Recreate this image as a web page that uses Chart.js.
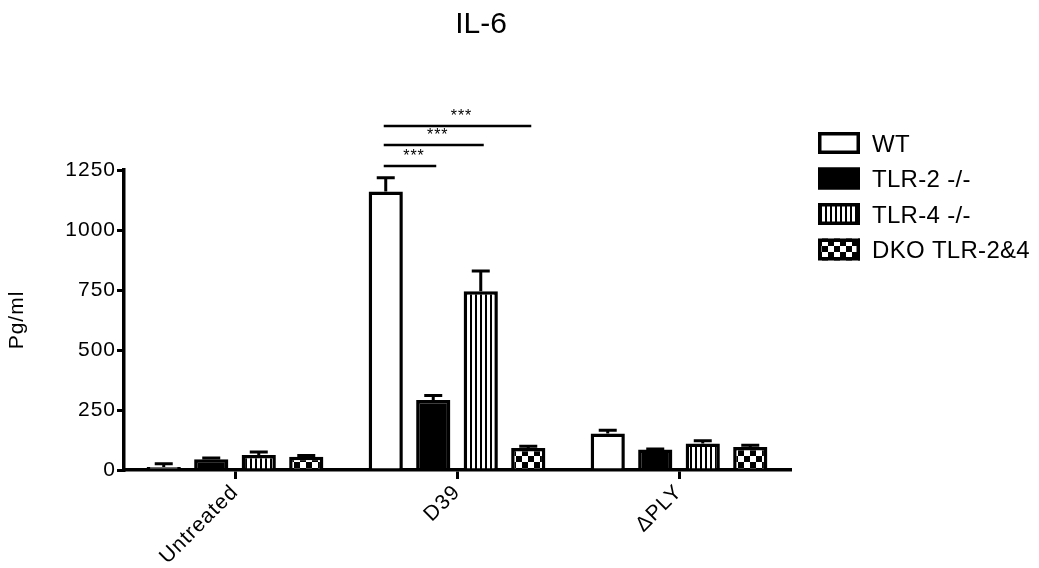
<!DOCTYPE html>
<html>
<head>
<meta charset="utf-8">
<script src="https://cdn.jsdelivr.net/npm/chart.js@4.4.1/dist/chart.umd.min.js"></script>
<style>
  html, body { margin: 0; padding: 0; background: #fff; }
  canvas { display: block; }
</style>
</head>
<body>
<canvas id="c" width="1039" height="568"></canvas>
<script>
// IL-6 concentration (pg/ml) per stimulus and genotype
const categories = ['Untreated', 'D39', '\u0394PLY'];
const seriesNames = ['WT', 'TLR-2 -/-', 'TLR-4 -/-', 'DKO TLR-2&4'];

const wtValues   = [12, 1160, 152];
const wtErrors   = [14, 58, 14];
const tlr2Values = [45, 292, 85];
const tlr2Errors = [5, 18, 3];
const tlr4Values = [63, 745, 110];
const tlr4Errors = [12, 84, 12];
const dkoValues  = [55, 92, 96];
const dkoErrors  = [5, 7, 7];

const yTicks = [0, 250, 500, 750, 1000, 1250];

// significance brackets within the D39 group (series index pairs)
const sigCategory = 1;
const sigPairs   = [[0, 1], [0, 2], [0, 3]];
const sigLevels  = [1267, 1354, 1433];
const sigLabels  = ['***', '***', '***'];

const FONT = '"Liberation Sans", Arial, Helvetica, sans-serif';
const canvas = document.getElementById('c');
const mainCtx = canvas.getContext('2d');

function makeStripes() {
  const c = document.createElement('canvas');
  c.width = 5; c.height = 5;
  const g = c.getContext('2d');
  g.fillStyle = '#fff'; g.fillRect(0, 0, 5, 5);
  g.fillStyle = '#000'; g.fillRect(0, 0, 2, 5);
  return mainCtx.createPattern(c, 'repeat');
}
function makeChecker() {
  const c = document.createElement('canvas');
  c.width = 12; c.height = 12;
  const g = c.getContext('2d');
  g.fillStyle = '#fff'; g.fillRect(0, 0, 12, 12);
  g.fillStyle = '#000'; g.fillRect(0, 0, 6, 6); g.fillRect(6, 6, 6, 6);
  return mainCtx.createPattern(c, 'repeat');
}

const fills = ['#ffffff', '#000000', makeStripes(), makeChecker()];
const valueSets = [wtValues, tlr2Values, tlr4Values, dkoValues];
const errorSets = [wtErrors, tlr2Errors, tlr4Errors, dkoErrors];

const datasets = seriesNames.map((name, i) => ({
  label: name,
  data: valueSets[i],
  errors: errorSets[i],
  backgroundColor: fills[i],
  borderColor: '#000',
  borderWidth: 3.5,
  borderSkipped: 'start',
  categoryPercentage: 0.856,
  barPercentage: 0.72
}));

const TEXT_SPACING = '1px';
const spacingPlugin = {
  id: 'spacing',
  afterInit(chart) { chart.ctx.letterSpacing = TEXT_SPACING; },
  beforeUpdate(chart) { chart.ctx.letterSpacing = TEXT_SPACING; },
  beforeDraw(chart) { chart.ctx.letterSpacing = TEXT_SPACING; }
};

const errorBarPlugin = {
  id: 'errorBars',
  afterDatasetsDraw(chart) {
    const ctx = chart.ctx, y = chart.scales.y;
    ctx.save();
    ctx.strokeStyle = '#000';
    ctx.lineWidth = 3;
    chart.data.datasets.forEach((ds, i) => {
      chart.getDatasetMeta(i).data.forEach((bar, j) => {
        const v = ds.data[j], e = ds.errors[j];
        const yTop = y.getPixelForValue(v), yErr = y.getPixelForValue(v + e);
        ctx.beginPath();
        ctx.moveTo(bar.x, yTop); ctx.lineTo(bar.x, yErr);
        ctx.moveTo(bar.x - 9, yErr); ctx.lineTo(bar.x + 9, yErr);
        ctx.stroke();
      });
    });
    ctx.restore();
  }
};

const significancePlugin = {
  id: 'significance',
  afterDraw(chart) {
    const ctx = chart.ctx, y = chart.scales.y;
    ctx.save();
    ctx.strokeStyle = '#000';
    ctx.fillStyle = '#000';
    ctx.lineWidth = 2.5;
    ctx.font = '16px ' + FONT;
    ctx.letterSpacing = '1px';
    ctx.textAlign = 'center';
    ctx.textBaseline = 'alphabetic';
    sigPairs.forEach((pair, k) => {
      const a = chart.getDatasetMeta(pair[0]).data[sigCategory];
      const b = chart.getDatasetMeta(pair[1]).data[sigCategory];
      const yy = y.getPixelForValue(sigLevels[k]);
      const x1 = a.x - 2, x2 = b.x + 3;
      ctx.beginPath(); ctx.moveTo(x1, yy); ctx.lineTo(x2, yy); ctx.stroke();
      ctx.fillText(sigLabels[k], (x1 + x2) / 2 + 4, yy - 5);
    });
    ctx.restore();
  }
};

const titlePlugin = {
  id: 'plotTitle',
  afterDraw(chart) {
    const ctx = chart.ctx;
    ctx.save();
    ctx.fillStyle = '#000';
    ctx.font = '30px ' + FONT;
    ctx.letterSpacing = '0px';
    ctx.textAlign = 'center';
    ctx.textBaseline = 'alphabetic';
    ctx.fillText('IL-6', 481, 33);
    ctx.restore();
  }
};

const legendPlugin = {
  id: 'sideLegend',
  afterDraw(chart) {
    const ctx = chart.ctx;
    const left = 818, boxW = 42, boxH = 22, top0 = 143, step = 35.5;
    ctx.save();
    ctx.font = '24px ' + FONT;
    ctx.letterSpacing = '0.3px';
    ctx.textAlign = 'left';
    ctx.textBaseline = 'alphabetic';
    chart.data.datasets.forEach((ds, i) => {
      const cy = top0 + i * step;
      ctx.fillStyle = ds.backgroundColor;
      ctx.fillRect(left, cy - boxH / 2, boxW, boxH);
      ctx.strokeStyle = '#000';
      ctx.lineWidth = 3.5;
      ctx.strokeRect(left + 1.75, cy - boxH / 2 + 1.75, boxW - 3.5, boxH - 3.5);
      ctx.fillStyle = '#000';
      ctx.fillText(ds.label, 872, cy + 8.5);
    });
    ctx.restore();
  }
};

new Chart(canvas, {
  type: 'bar',
  data: { labels: categories, datasets },
  plugins: [spacingPlugin, errorBarPlugin, significancePlugin, titlePlugin, legendPlugin],
  options: {
    responsive: false,
    animation: false,
    devicePixelRatio: 1,
    layout: { padding: { top: 170, right: 249, left: 0, bottom: 0 } },
    plugins: {
      legend: { display: false },
      title: { display: false },
      tooltip: { enabled: false }
    },
    scales: {
      x: {
        type: 'category',
        offset: true,
        grid: {
          offset: false,
          drawOnChartArea: false,
          drawTicks: true,
          tickLength: 9,
          lineWidth: 3,
          color: '#000'
        },
        border: { display: true, color: '#000', width: 3.5 },
        ticks: {
          color: '#000',
          font: { family: FONT, size: 21 },
          minRotation: 45,
          maxRotation: 45,
          autoSkip: false,
          padding: 1
        },
        afterFit(scale) { scale.height = 98; }
      },
      y: {
        min: 0,
        max: 1250,
        afterBuildTicks(scale) { scale.ticks = yTicks.map(v => ({ value: v })); },
        grid: {
          drawOnChartArea: false,
          drawTicks: true,
          tickLength: 7,
          lineWidth: 3,
          color: '#000'
        },
        border: { display: true, color: '#000', width: 3.5 },
        ticks: {
          color: '#000',
          font: { family: FONT, size: 21 },
          padding: 1,
          callback: (v) => String(v)
        },
        title: {
          display: true,
          text: 'Pg/ml',
          color: '#000',
          font: { family: FONT, size: 21 },
          padding: { top: 5, bottom: 0 }
        },
        afterFit(scale) { scale.width = 124; }
      }
    }
  }
});
</script>
</body>
</html>
